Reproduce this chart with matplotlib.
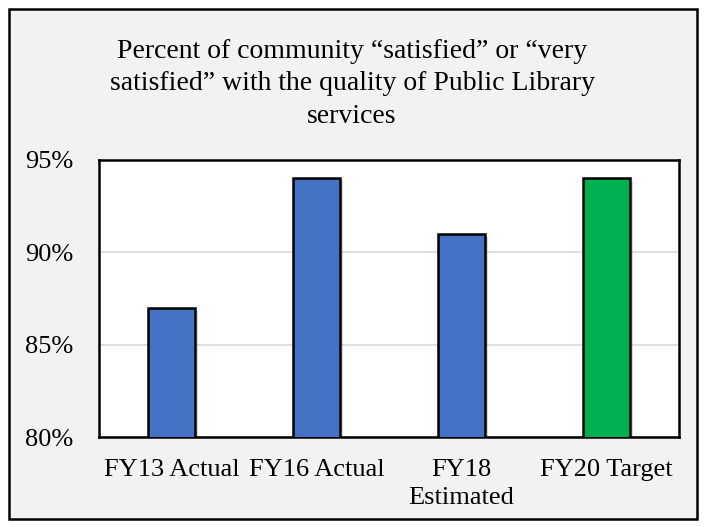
import matplotlib.pyplot as plt
import matplotlib.patheffects as pe
from matplotlib.patches import Rectangle
from matplotlib.ticker import FuncFormatter
import numpy as np

# Données
categories = ["FY13 Actual", "FY16 Actual", "FY18\nEstimated", "FY20 Target"]
values = [87, 94, 91, 94]
bar_colors = ["#4472C4", "#4472C4", "#4472C4", "#00B050"]
y_ticks = [80, 85, 90, 95]
title = "Percent of community \u201csatisfied\u201d or \u201cvery\nsatisfied\u201d with the quality of Public Library\nservices"

plt.rcParams['font.family'] = ['Liberation Serif', 'DejaVu Serif']

W, H = 704, 527
fig = plt.figure(figsize=(W / 100, H / 100), dpi=100)
fig.patch.set_facecolor("white")

# Cadre extérieur gris avec bordure noire
frame = Rectangle((9 / W, 1 - 519 / H), (697 - 9) / W, (519 - 9) / H,
                  transform=fig.transFigure, facecolor="#F2F2F2",
                  edgecolor="black", linewidth=1.8, zorder=-10)
fig.add_artist(frame)

# Zone de tracé
left, right, top, bottom = 99, 679, 160, 437
ax = fig.add_axes([left / W, 1 - bottom / H, (right - left) / W, (bottom - top) / H])
ax.set_facecolor("white")

x = np.arange(len(categories))
bars = ax.bar(x, values, width=0.324, color=bar_colors, edgecolor="black",
              linewidth=1.8, zorder=3)
for b in bars:
    b.set_path_effects([pe.SimplePatchShadow(offset=(2, -2), alpha=0.15, shadow_rgbFace="black"),
                        pe.Normal()])

ax.set_ylim(80, 95)
ax.set_xlim(-0.5, len(categories) - 0.5)
ax.set_yticks(y_ticks)
ax.yaxis.set_major_formatter(FuncFormatter(lambda v, p: f"{v:.0f}%"))
ax.set_xticks(x)
ax.set_xticklabels(categories, linespacing=1.4, fontsize=19)
for lbl in ax.get_yticklabels():
    lbl.set_fontsize(19)
ax.tick_params(axis="both", length=0, labelsize=19, colors="black")
ax.tick_params(axis="y", pad=18.5)
ax.tick_params(axis="x", pad=15.5)
ax.grid(axis="y", color="#D9D9D9", linewidth=1.2, zorder=0)
for s in ax.spines.values():
    s.set_color("black")
    s.set_linewidth(1.8)

fig.text(0.5, 1 - 84 / H, title, ha="center", va="center", fontsize=20,
         linespacing=1.39)

fig.savefig("out.png", dpi=100, facecolor=fig.get_facecolor())
